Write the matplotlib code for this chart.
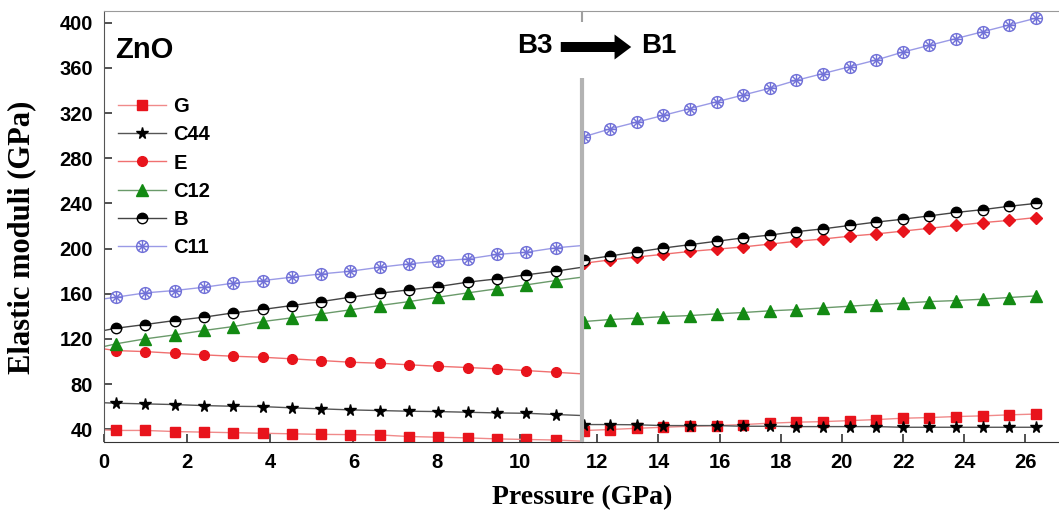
import matplotlib
matplotlib.use('Agg')
import matplotlib.pyplot as plt
from matplotlib.path import Path
from matplotlib.lines import Line2D

# ---------------- data ----------------
# B3 (wurtzite) phase: first and last entries are line ends (no marker)
p_left = [0.0, 0.29, 0.995, 1.70, 2.405, 3.11, 3.815, 4.52, 5.225, 5.93,
          6.635, 7.34, 8.045, 8.75, 9.455, 10.16, 10.865, 11.5]
G_left = [39.5, 39, 39, 38, 37.5, 37, 36.5, 36, 35.5, 35.3, 35, 33.6, 33,
          32.4, 31.5, 31, 30.5, 29.5]
C44_left = [63.5, 63.1, 62.5, 61.9, 61, 60.4, 60.1, 59, 58.1, 57.2, 56.6,
            56, 55.7, 55.1, 54.5, 54.2, 53.1, 52.2]
E_left = [111.2, 109.7, 108.8, 107.3, 105.9, 104.7, 103.8, 102.4, 100.9,
          99.4, 98.5, 97.1, 95.8, 94.7, 93.5, 92, 90.5, 89.1]
C12_left = [113.3, 115.7, 120.1, 123.6, 127.5, 131, 135.4, 138.7, 142.2,
            145.8, 149.6, 153.1, 157, 160.8, 164.4, 167.9, 171.7, 174.7]
B_left = [127.5, 129.5, 132.8, 136.3, 139.3, 143.1, 146.1, 149.6, 153.1,
          157, 160.5, 163.5, 166.4, 170.3, 173.2, 176.8, 180, 183.5]
C11_left = [155.5, 157, 160.8, 162.9, 165.8, 169.4, 171.7, 174.7, 177.6,
            180, 183.5, 186.5, 188.9, 190.9, 194.8, 196.8, 200.7, 202.7]

# B1 (rocksalt) phase
p_right = [11.55, 12.42, 13.29, 14.16, 15.03, 15.90, 16.77, 17.64, 18.51,
           19.38, 20.25, 21.12, 21.99, 22.86, 23.73, 24.60, 25.47, 26.34]
G_right = [38.9, 39.8, 40.9, 41.8, 42.7, 43.3, 44.2, 45.4, 46.3, 46.8, 47.7,
           48.6, 49.8, 50.4, 51.3, 51.9, 52.8, 53.5]
C44_right = [44.2, 44.2, 44.0, 43.3, 43.3, 43.3, 42.7, 42.7, 42.4, 42.4,
             42.4, 42.4, 41.8, 41.8, 41.8, 41.8, 41.8, 41.8]
E_right = [187, 190, 192.5, 195, 197.5, 199.5, 201.5, 204, 206.5, 208.5,
           211, 213, 215.5, 218, 220.5, 223, 225, 227.5]
C12_right = [135.4, 137.2, 138.4, 139.8, 140.7, 142.2, 143.4, 144.9, 146,
             147.5, 149, 150.5, 151.7, 153.1, 154, 155.2, 156.7, 158.1]
B_right = [190, 193.5, 197, 200.5, 203.5, 206.5, 209.5, 212, 215, 217.5,
           220.5, 223.5, 226, 229, 232, 234.5, 237.5, 240]
C11_right = [299, 306, 312, 318, 324, 330, 336, 342, 349, 355, 361, 367,
             374, 380, 386, 392, 398, 404]

labels = ['G', 'C44', 'E', 'C12', 'B', 'C11']
xticks_left = [0, 2, 4, 6, 8, 10]
xticks_right = [12, 14, 16, 18, 20, 22, 24, 26]
yticks = [40, 80, 120, 160, 200, 240, 280, 320, 360, 400]

# ---------------- styles ----------------
SANS = ['Liberation Sans', 'DejaVu Sans']
SERIF = ['Liberation Serif', 'DejaVu Serif']

circ = Path.unit_circle()
vv = list(circ.vertices) + [(-0.72, -0.72), (0.72, 0.72), (-0.72, 0.72), (0.72, -0.72),
                            (0, -1), (0, 1), (-1, 0), (1, 0)]
cc = list(circ.codes) + [Path.MOVETO, Path.LINETO, Path.MOVETO, Path.LINETO,
                         Path.MOVETO, Path.LINETO, Path.MOVETO, Path.LINETO]
c11_marker = Path(vv, cc)

red = '#e8141c'
styles = {
    'G':   dict(color='#f08a8a', marker='s', mfc=red, mec=red, ms=6.5),
    'C44': dict(color='#555555', marker='*', mfc='black', mec='black', ms=8.5),
    'E':   dict(color='#f07070', marker='o', mfc=red, mec=red, ms=7),
    'C12': dict(color='#6a9a6a', marker='^', mfc='#138a13', mec='#138a13', ms=8),
    'B':   dict(color='#444444', marker='o', mfc='black', mec='black', ms=7.5,
                fillstyle='top', markerfacecoloralt='white'),
    'C11': dict(color='#9a9ae6', marker=c11_marker, mfc='none', mec='#7272d8',
                ms=8.5, mew=1.0),
}

fig = plt.figure(figsize=(10.59, 5.17), dpi=100)
W, H = 1059, 517
y_top, y_bot = 11, 441.5
axL = fig.add_axes([104 / W, 1 - y_bot / H, 478 / W, (y_bot - y_top) / H])
axR = fig.add_axes([582 / W, 1 - y_bot / H, 477 / W, (y_bot - y_top) / H])
axR.patch.set_visible(False)

left_data = [G_left, C44_left, E_left, C12_left, B_left, C11_left]
right_data = [G_right, C44_right, E_right, C12_right, B_right, C11_right]

handles = []
for lab, yl, yr in zip(labels, left_data, right_data):
    st = dict(styles[lab])
    axL.plot(p_left, yl, lw=1.0, markevery=slice(1, len(p_left) - 1), **st)
    if lab == 'E':
        st_r = dict(st, marker='D', ms=6)
    else:
        st_r = st
    axR.plot(p_right, yr, lw=1.0, **st_r)
    handles.append(Line2D([], [], lw=1.0, label=lab, **st))

ylim = (29.2, 410.4)
for ax in (axL, axR):
    ax.set_ylim(*ylim)
    ax.spines['top'].set_color('#9a9a9a')
    ax.spines['bottom'].set_color('#333333')
    ax.spines['right'].set_visible(False)
    ax.tick_params(direction='in', length=6, width=1.2, color='#333333',
                   labelsize=14.5, pad=8)

axL.set_xlim(0, 11.5)
axR.set_xlim(11.5, 27.1)
axL.set_xticks(xticks_left)
axR.set_xticks(xticks_right)
axL.set_yticks(yticks)
axR.set_yticks([])
axR.spines['left'].set_visible(False)
axL.spines['left'].set_color('#555555')
for ax in (axL, axR):
    for t in ax.get_xticklabels() + ax.get_yticklabels():
        t.set_family(SANS)
        t.set_fontweight('bold')
        t.set_fontsize(14.5)

# divider between phases (drawn on the right axes, on top)
axR.plot([0, 0], [0, 0.844], transform=axR.transAxes, color='#b3b3b3',
         lw=3.0, clip_on=False, zorder=6, solid_capstyle='butt')
axR.plot([0, 0], [0.974, 1], transform=axR.transAxes, color='#a0a0a0',
         lw=1.5, clip_on=False, zorder=6, solid_capstyle='butt')

# legend
leg = axL.legend(handles=handles, loc='upper left',
                 bbox_to_anchor=(118 / W, 1 - 97 / H), bbox_transform=fig.transFigure,
                 frameon=False, handlelength=2.4, handletextpad=0.35,
                 labelspacing=0.46, borderpad=0, borderaxespad=0,
                 prop=dict(family=SANS, weight='bold', size=14.5))

# annotations
fig.text(115 / W, 1 - 50 / H, 'ZnO', family=SANS, weight='bold', fontsize=21,
         ha='left', va='center')
fig.text(553 / W, 1 - 46 / H, 'B3', family=SANS, weight='bold', fontsize=20,
         ha='right', va='center')
fig.text(641 / W, 1 - 46 / H, 'B1', family=SANS, weight='bold', fontsize=20,
         ha='left', va='center')
fig.patches.append(matplotlib.patches.FancyArrowPatch(
    (558, H - 47), (634, H - 47), transform=None,
    arrowstyle='simple,head_length=0.6,head_width=0.9,tail_width=0.36',
    mutation_scale=20, color='black', lw=0))

# axis labels
fig.text(582 / W, 1 - 498 / H, 'Pressure (GPa)', family=SERIF, weight='bold',
         fontsize=20, ha='center', va='center')
fig.text(22 / W, 1 - 237 / H, 'Elastic moduli (GPa)', family=SERIF, weight='bold',
         fontsize=22, ha='center', va='center', rotation=90)

fig.savefig('out.png', dpi=100, facecolor='white')
